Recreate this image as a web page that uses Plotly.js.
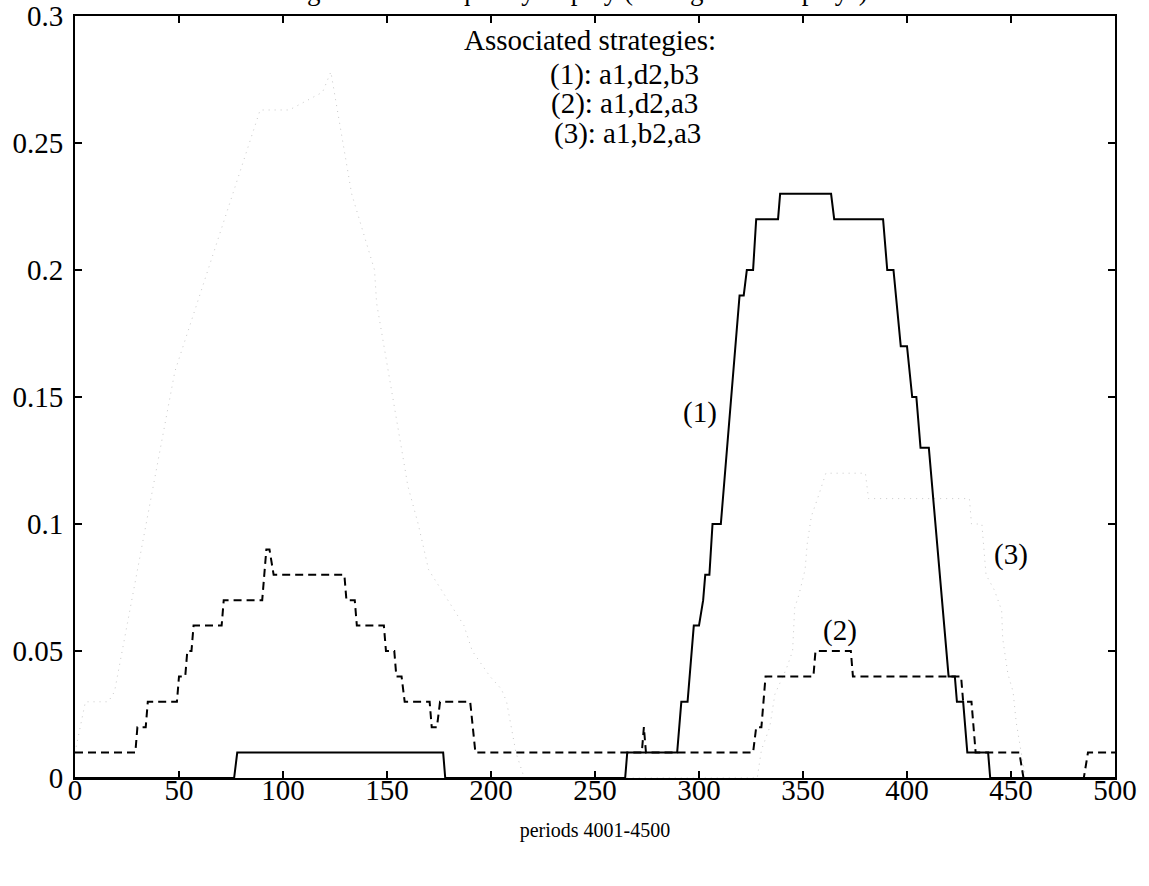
<!DOCTYPE html>
<html>
<head>
<meta charset="utf-8">
<script src="https://cdn.plot.ly/plotly-3.0.1.min.js"></script>
<style>html,body{margin:0;padding:0;background:#fff;}#chart{width:1149px;height:886px;}</style>
</head>
<body>
<div id="chart"></div>
<script>
// Series (1): a1,d2,b3 (solid)
var s1x = [0, 76.5, 78, 177, 178, 264.5, 265.5, 289.5, 291.5, 294.5, 297.5, 300, 302, 303, 305, 306.5, 310.5, 319.5, 321.5, 323, 326, 327.5, 338, 339, 363.5, 365, 388.5, 390.5, 393.5, 397, 400, 402.5, 404.5, 406.5, 410.5, 420, 423, 424, 427, 429, 439, 440, 500];
var s1y = [0, 0, 0.01, 0.01, 0, 0, 0.01, 0.01, 0.03, 0.03, 0.06, 0.06, 0.07, 0.08, 0.08, 0.10, 0.10, 0.19, 0.19, 0.20, 0.20, 0.22, 0.22, 0.23, 0.23, 0.22, 0.22, 0.20, 0.20, 0.17, 0.17, 0.15, 0.15, 0.13, 0.13, 0.04, 0.04, 0.03, 0.03, 0.01, 0.01, 0, 0];

// Series (2): a1,d2,a3 (dashed)
var s2x = [0, 29, 30, 34, 35, 49, 50, 53, 54, 56, 57, 70.5, 71.5, 90, 92, 93.5, 95.5, 129.5, 130.5, 134.5, 135.5, 148.5, 149.5, 153.5, 154.5, 157, 158.5, 170.5, 171.5, 174, 175.5, 190, 192.5, 272.5, 273.5, 274.5, 326, 327.5, 330, 332, 355, 356, 373, 374, 426, 427, 431, 433, 454, 456, 485, 487, 500];
var s2y = [0.01, 0.01, 0.02, 0.02, 0.03, 0.03, 0.04, 0.04, 0.05, 0.05, 0.06, 0.06, 0.07, 0.07, 0.09, 0.09, 0.08, 0.08, 0.07, 0.07, 0.06, 0.06, 0.05, 0.05, 0.04, 0.04, 0.03, 0.03, 0.02, 0.02, 0.03, 0.03, 0.01, 0.01, 0.02, 0.01, 0.01, 0.02, 0.02, 0.04, 0.04, 0.05, 0.05, 0.04, 0.04, 0.03, 0.03, 0.01, 0.01, 0, 0, 0.01, 0.01];

// Series (3): a1,b2,a3 (faint dotted)
var s3x = [0, 2, 4, 5, 16, 19, 48, 89, 103, 119, 123, 133, 144, 145, 159, 160, 165, 170, 187, 191, 199.5, 205, 207.5, 212, 216, 328, 330, 334, 336.5, 342, 345, 346, 348, 351, 352, 354, 357, 361, 380, 381.5, 430, 431, 436, 437, 438, 442, 445.5, 446, 448.5, 451, 452.5, 454.5, 457, 500];
var s3y = [0.01, 0.018, 0.025, 0.03, 0.03, 0.034, 0.16, 0.263, 0.263, 0.27, 0.278, 0.23, 0.20, 0.187, 0.12, 0.115, 0.10, 0.082, 0.06, 0.05, 0.04, 0.035, 0.03, 0.01, 0, 0, 0.011, 0.02, 0.033, 0.043, 0.05, 0.067, 0.072, 0.082, 0.092, 0.103, 0.11, 0.12, 0.12, 0.11, 0.11, 0.10, 0.10, 0.09, 0.08, 0.074, 0.066, 0.055, 0.041, 0.034, 0.022, 0.012, 0, 0];

var xTicks = [0, 50, 100, 150, 200, 250, 300, 350, 400, 450, 500];
var yTicks = [0, 0.05, 0.1, 0.15, 0.2, 0.25, 0.3];
var yTickText = ['0', '0.05', '0.1', '0.15', '0.2', '0.25', '0.3'];

var titleText = 'Average relative frequency of play (during last 100 plays).';
var xTitle = 'periods 4001-4500';
var legendLines = ['Associated strategies:', '(1): a1,d2,b3', '(2): a1,d2,a3', '(3): a1,b2,a3'];
var legendX = [247.5, 264, 264, 265.5];
var legendY = [0.2905, 0.2768, 0.2654, 0.2539];
var curveLabels = ['(1)', '(2)', '(3)'];
var curveLabelX = [300.5, 368, 450];
var curveLabelY = [0.144, 0.058, 0.088];

var FONT = 'Liberation Serif, Times New Roman, serif';

var traces = [
  {x: s3x, y: s3y, mode: 'lines', line: {color: '#c8c8c8', width: 1, dash: '1px,5px'}, hoverinfo: 'skip'},
  {x: s2x, y: s2y, mode: 'lines', line: {color: '#000', width: 2, dash: '8px,5px'}, hoverinfo: 'skip'},
  {x: s1x, y: s1y, mode: 'lines', line: {color: '#000', width: 2}, hoverinfo: 'skip'},
  // invisible carrier for the tick-label axis
  {x: [0, 500], y: [0, 0], xaxis: 'x2', mode: 'lines', line: {color: 'rgba(0,0,0,0)', width: 0}, hoverinfo: 'skip'}
];

var annotations = [];
legendLines.forEach(function (t, i) {
  annotations.push({text: t, x: legendX[i], y: legendY[i], xref: 'x', yref: 'y', showarrow: false,
    xanchor: 'center', yanchor: 'middle', font: {family: FONT, size: 29, color: '#000'}});
});
curveLabels.forEach(function (t, i) {
  annotations.push({text: t, x: curveLabelX[i], y: curveLabelY[i], xref: 'x', yref: 'y', showarrow: false,
    xanchor: 'center', yanchor: 'middle', font: {family: FONT, size: 29, color: '#000'}});
});
// title, cut off at the top edge as in the source scan
annotations.push({text: titleText, x: 0.465, y: 1, xref: 'paper', yref: 'paper', showarrow: false,
  xanchor: 'center', yanchor: 'middle', yshift: 25, font: {family: FONT, size: 27, color: '#000'}});

var layout = {
  width: 1149, height: 886,
  margin: {l: 75, r: 34, t: 16, b: 108},
  paper_bgcolor: '#fff', plot_bgcolor: '#fff',
  showlegend: false,
  font: {family: FONT, size: 29, color: '#000'},
  xaxis: {
    range: [0, 500], tickvals: xTicks, showticklabels: false,
    ticks: 'inside', ticklen: 7, tickwidth: 1.5, tickcolor: '#000',
    showline: true, linecolor: '#000', linewidth: 2, mirror: 'ticks',
    showgrid: false, zeroline: false,
    title: {text: xTitle, font: {family: FONT, size: 20, color: '#000'}, standoff: 44}
  },
  xaxis2: {
    range: [0, 500], tickvals: xTicks, ticktext: xTicks.map(String),
    overlaying: 'x', anchor: 'free', position: 0.0105, side: 'bottom',
    ticks: '', showline: false, showgrid: false, zeroline: false,
    tickfont: {family: FONT, size: 29, color: '#000'}
  },
  yaxis: {
    range: [0, 0.3], tickvals: yTicks, ticktext: yTickText,
    ticks: 'inside', ticklen: 7, tickwidth: 1.5, tickcolor: '#000',
    showline: true, linecolor: '#000', linewidth: 2, mirror: 'ticks',
    showgrid: false, zeroline: false, ticklabelstandoff: 4,
    tickfont: {family: FONT, size: 29, color: '#000'}
  },
  annotations: annotations
};

Plotly.newPlot('chart', traces, layout, {staticPlot: true, displayModeBar: false});
</script>
</body>
</html>
